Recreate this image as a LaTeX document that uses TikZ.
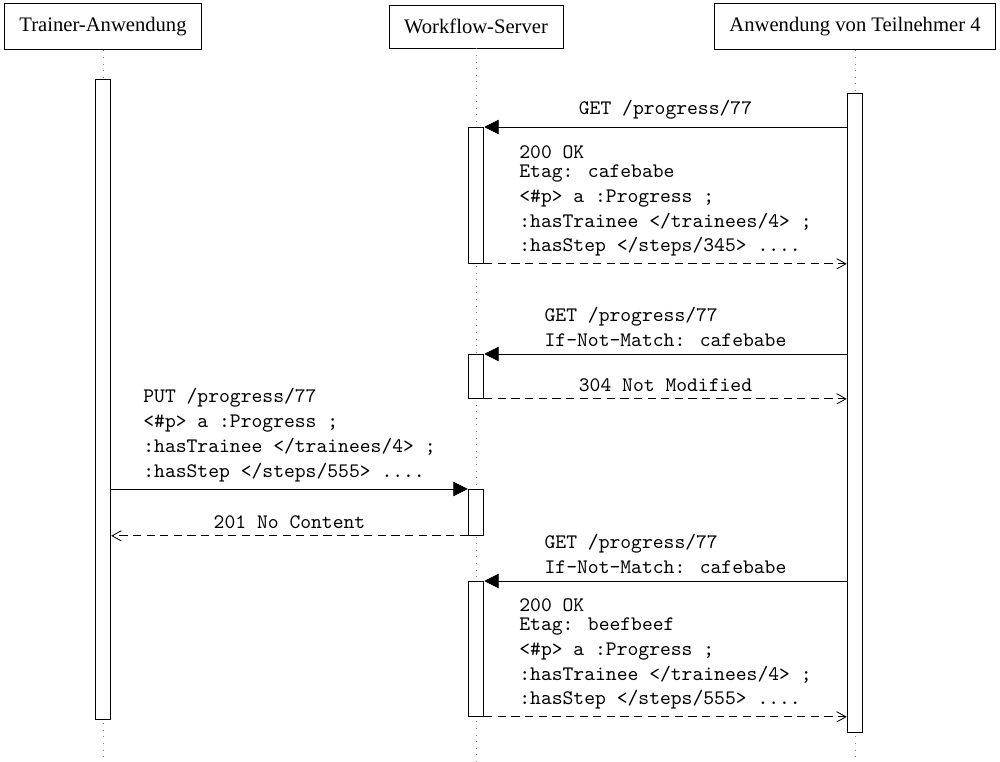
\documentclass[tikz,border=0pt]{standalone}
\usepackage{fontspec}
\setmainfont{Liberation Serif}
\usetikzlibrary{arrows.meta}

\tikzset{
  thread/.style={draw, inner xsep=7.3pt, inner ysep=6.8pt},
  life/.style={gray, dash pattern=on 0.4pt off 2.8pt},
  bar/.style={draw, fill=white, inner sep=0pt, minimum width=7.6pt, anchor=north},
  call/.style={-{Triangle[length=7pt,width=7pt]}},
  reply/.style={dash pattern=on 4pt off 2.6pt, -{Straight Barb[length=4.5pt,width=5pt]}},
  msg/.style={above, align=left, font=\ttfamily},
}

\begin{document}
\begin{tikzpicture}[x=0.485pt, y=-0.485pt] % one unit = one pixel of the sketch
\useasboundingbox (0,0) rectangle (1000,762);
% threads
\node[thread] (tr) at (103,26.5) {Trainer-Anwendung};
\node[thread] (wf) at (476,26.5) {Workflow-Server};
\node[thread] (tn) at (855,26.5) {Anwendung von Teilnehmer 4};
\coordinate (trend) at (103,762);
\coordinate (wfend) at (476,762);
\coordinate (tnend) at (855,762);
\draw[life] (tr.south) -- (trend);
\draw[life] (wf.south) -- (wfend);
\draw[life] (tn.south) -- (tnend);
% activations
\node[bar, minimum height=640*0.485pt] (trb) at (103,79) {};
\node[bar, minimum height=639*0.485pt] (tnb) at (855,93) {};
\node[bar, minimum height=136*0.485pt] (wf1) at (476,127) {};
\node[bar, minimum height=44*0.485pt] (wf2) at (476,354) {};
\node[bar, minimum height=46*0.485pt] (wf3) at (476,489) {};
\node[bar, minimum height=135*0.485pt] (wf4) at (476,581) {};
% first poll
\draw[call] (tnb.west |- wf1.north) -- (wf1.north east)
  node[msg, midway] {GET /progress/77};
\draw[reply] (wf1.south east) -- (tnb.west |- wf1.south)
  node[msg, midway] {200 OK\\[-2.8pt]Etag: cafebabe\\<\#p> a :Progress ;\\:hasTrainee </trainees/4> ;\\:hasStep </steps/345> ....};
% second poll
\draw[call] (tnb.west |- wf2.north) -- (wf2.north east)
  node[msg, midway] {GET /progress/77\\If-Not-Match: cafebabe};
\draw[reply] (wf2.south east) -- (tnb.west |- wf2.south)
  node[msg, midway] {304 Not Modified};
% trainer update
\draw[call] (trb.east |- wf3.north) -- (wf3.north west)
  node[msg, midway] {PUT /progress/77\\<\#p> a :Progress ;\\:hasTrainee </trainees/4> ;\\:hasStep </steps/555> ....};
\draw[reply] (wf3.south west) -- (trb.east |- wf3.south)
  node[msg, midway] {201 No Content};
% third poll
\draw[call] (tnb.west |- wf4.north) -- (wf4.north east)
  node[msg, midway] {GET /progress/77\\If-Not-Match: cafebabe};
\draw[reply] (wf4.south east) -- (tnb.west |- wf4.south)
  node[msg, midway] {200 OK\\[-2.8pt]Etag: beefbeef\\<\#p> a :Progress ;\\:hasTrainee </trainees/4> ;\\:hasStep </steps/555> ....};
\end{tikzpicture}
\end{document}
